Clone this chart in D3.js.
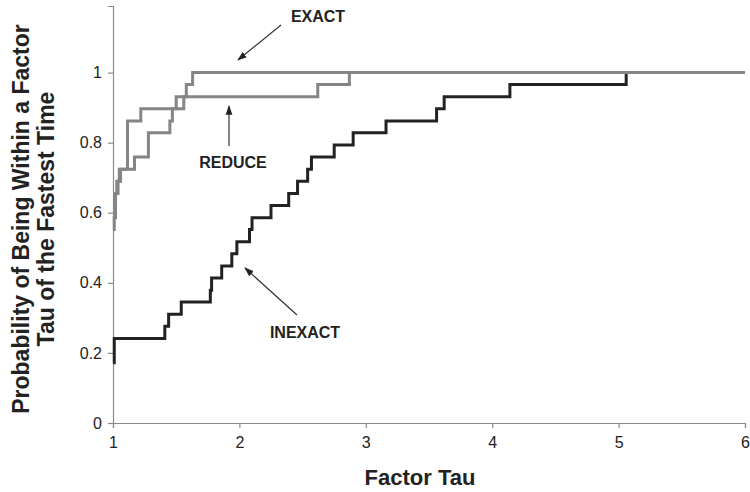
<!DOCTYPE html>
<html lang="en">
<head>
<meta charset="UTF-8">
<script src="https://d3js.org/d3.v7.min.js"></script>
<title>Performance profile</title>
<style>
  body { margin: 0; background: #fff; }
  svg text { font-family: "Liberation Sans", Arial, sans-serif; }
</style>
</head>
<body>
<div id="chart"></div>
<script>
// step points (tau where the curve jumps, probability after the jump)
const exactTau  = [1.00, 1.02, 1.03, 1.06, 1.17, 1.28, 1.45, 1.47, 1.56, 1.58, 1.63];
const exactProb = [0.621, 0.655, 0.690, 0.724, 0.759, 0.828, 0.862, 0.897, 0.931, 0.966, 1.0];

const reduceTau  = [1.00, 1.01, 1.02, 1.04, 1.05, 1.115, 1.22, 1.50, 2.62, 2.87];
const reduceProb = [0.552, 0.586, 0.655, 0.690, 0.724, 0.862, 0.897, 0.931, 0.966, 1.0];

const inexactTau  = [1.00, 1.01, 1.41, 1.44, 1.54, 1.77, 1.78, 1.86, 1.94, 1.98, 2.08, 2.10,
                     2.25, 2.39, 2.46, 2.54, 2.57, 2.75, 2.90, 3.16, 3.56, 3.62, 4.14, 5.06];
const inexactProb = [0.172, 0.241, 0.276, 0.310, 0.345, 0.379, 0.414, 0.448, 0.483, 0.517, 0.552, 0.586,
                     0.621, 0.655, 0.690, 0.724, 0.759, 0.793, 0.828, 0.862, 0.897, 0.931, 0.966, 1.0];

const xTicks = [1, 2, 3, 4, 5, 6];
const yTicks = [0, 0.2, 0.4, 0.6, 0.8, 1];

// drawn in this order, so the grey curves sit on top of the black one
const series = [
  { name: "INEXACT", tau: inexactTau, prob: inexactProb, color: "#222222" },
  { name: "REDUCE",  tau: reduceTau,  prob: reduceProb,  color: "#858585" },
  { name: "EXACT",   tau: exactTau,   prob: exactProb,   color: "#858585" }
];

const svg = d3.select("#chart").append("svg").attr("width", 750).attr("height", 492);

const x = d3.scaleLinear().domain([1, 6]).range([113, 745]);
const y = d3.scaleLinear().domain([0, 1.19]).range([423, 6]);

// axes
const xAxis = svg.append("g").attr("transform", `translate(0,${y(0)})`)
  .call(d3.axisBottom(x).tickValues(xTicks).tickFormat(d3.format("d")).tickSizeOuter(0).tickSize(5).tickPadding(9));
const yAxis = svg.append("g").attr("transform", `translate(${x(1)},0)`)
  .call(d3.axisLeft(y).tickValues(yTicks).tickFormat(d => d).tickSizeOuter(0).tickSize(5).tickPadding(6));

[xAxis, yAxis].forEach(a => {
  a.select(".domain").attr("stroke", "#8a8a8a").attr("stroke-width", 1.2);
  a.selectAll(".tick line").attr("stroke", "#8a8a8a").attr("stroke-width", 1.2);
  a.selectAll(".tick text").attr("font-size", 16).attr("fill", "#222")
    .style("font-family", "'Liberation Sans', Arial, sans-serif");
});

// lines
const line = d3.line().curve(d3.curveStepAfter).x(d => x(d[0])).y(d => y(d[1]));
series.forEach(s => {
  const pts = s.tau.map((t, i) => [t, s.prob[i]]);
  pts.push([6, s.prob[s.prob.length - 1]]);
  svg.append("path").datum(pts)
    .attr("fill", "none")
    .attr("stroke", s.color)
    .attr("stroke-width", 3)
    .attr("stroke-linejoin", "miter")
    .attr("d", line);
});

// axis titles
svg.append("text").attr("x", 420).attr("y", 485).attr("text-anchor", "middle")
  .attr("font-size", 22).attr("font-weight", "bold").attr("fill", "#222").text("Factor Tau");

const yt = svg.append("text").attr("transform", "translate(0,219) rotate(-90)")
  .attr("text-anchor", "middle").attr("font-size", 23).attr("font-weight", "bold").attr("fill", "#222");
yt.append("tspan").attr("x", 0).attr("y", 29).text("Probability of Being Within a Factor");
yt.append("tspan").attr("x", 0).attr("y", 54).text("Tau of the Fastest Time");

// annotations
svg.append("defs").append("marker")
  .attr("id", "arrow").attr("viewBox", "0 0 10 10").attr("refX", 9).attr("refY", 5)
  .attr("markerWidth", 8).attr("markerHeight", 8).attr("orient", "auto")
  .append("path").attr("d", "M0,1.5 L10,5 L0,8.5 Z").attr("fill", "#222");

const notes = [
  { label: "EXACT",   tx: 318, ty: 22,  from: [281, 25],  to: [238, 60] },
  { label: "REDUCE",  tx: 233, ty: 168, from: [229, 146], to: [229, 106] },
  { label: "INEXACT", tx: 305, ty: 338, from: [297, 315], to: [245, 268] }
];
notes.forEach(n => {
  svg.append("line").attr("x1", n.from[0]).attr("y1", n.from[1]).attr("x2", n.to[0]).attr("y2", n.to[1])
    .attr("stroke", "#333").attr("stroke-width", 1.2).attr("marker-end", "url(#arrow)");
  svg.append("text").attr("x", n.tx).attr("y", n.ty).attr("text-anchor", "middle")
    .attr("font-size", 16).attr("font-weight", "bold").attr("fill", "#222").text(n.label);
});
</script>
</body>
</html>
